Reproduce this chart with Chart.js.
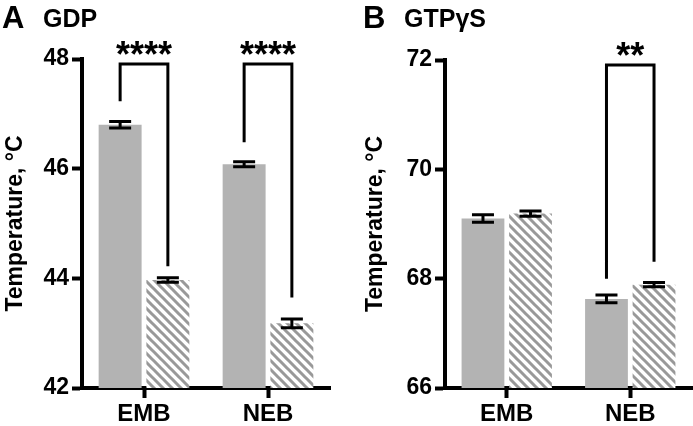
<!DOCTYPE html>
<html>
<head>
<meta charset="utf-8">
<script src="https://cdn.jsdelivr.net/npm/chart.js@4.4.1/dist/chart.umd.min.js"></script>
<style>
body { margin: 0; background: #fff; }
#wrap { position: relative; width: 693px; height: 426px; }
canvas { position: absolute; top: 0; }
</style>
</head>
<body>
<div id="wrap">
  <canvas id="chartA" width="347" height="426" style="left:0"></canvas>
  <canvas id="chartB" width="346" height="426" style="left:347px"></canvas>
</div>
<script>
const categories = ['EMB', 'NEB'];
const gdpSolid = [46.80, 46.08];
const gdpSolidErr = [0.06, 0.045];
const gdpHatched = [43.97, 43.18];
const gdpHatchedErr = [0.04, 0.08];
const gtpSolid = [69.10, 67.63];
const gtpSolidErr = [0.07, 0.07];
const gtpHatched = [69.19, 67.89];
const gtpHatchedErr = [0.05, 0.04];
const gdpTicks = [42, 44, 46, 48];
const gtpTicks = [66, 68, 70, 72];
// brackets: category index, top, left leg end, right leg end, stars
const gdpBrackets = [[0, 47.91, 47.23, 44.22, '****'], [1, 47.91, 46.48, 43.65, '****']];
const gtpBrackets = [[1, 71.91, 68.0, 68.31, '**']];

const FONT = "'Liberation Sans', Arial, sans-serif";
Chart.defaults.font.family = FONT;
Chart.defaults.color = '#000';

function hatch() {
    let c = document.createElement('canvas');
    c.width = 9; c.height = 9;
    let x = c.getContext('2d');
    x.fillStyle = '#fff';
    x.fillRect(0, 0, 9, 9);
    x.strokeStyle = '#999';
    x.lineWidth = 3;
    x.beginPath();
    x.moveTo(-2, -2); x.lineTo(11, 11);
    x.moveTo(-2, 7); x.lineTo(11, 20);
    x.moveTo(-2, -11); x.lineTo(11, 2);
    x.stroke();
    return x.createPattern(c, 'repeat');
}

const errorBars = {
    id: 'errorBars',
    afterDatasetsDraw(chart) {
        let ctx = chart.ctx, y = chart.scales.y;
        ctx.save();
        ctx.strokeStyle = '#000';
        ctx.lineWidth = 3;
        chart.data.datasets.forEach((ds, i) => {
            chart.getDatasetMeta(i).data.forEach((bar, j) => {
                let hi = y.getPixelForValue(ds.data[j] + ds.errors[j]);
                let lo = y.getPixelForValue(ds.data[j] - ds.errors[j]);
                ctx.beginPath();
                ctx.moveTo(bar.x, hi); ctx.lineTo(bar.x, lo);
                ctx.moveTo(bar.x - 11, hi); ctx.lineTo(bar.x + 11, hi);
                ctx.moveTo(bar.x - 11, lo); ctx.lineTo(bar.x + 11, lo);
                ctx.stroke();
            });
        });
        ctx.restore();
    }
};

const extras = {
    id: 'extras',
    afterDraw(chart, args, opts) {
        let ctx = chart.ctx, y = chart.scales.y;
        ctx.save();
        ctx.strokeStyle = '#000';
        ctx.lineWidth = 3;
        ctx.fillStyle = '#000';
        opts.brackets.forEach(b => {
            let x1 = chart.getDatasetMeta(0).data[b[0]].x;
            let x2 = chart.getDatasetMeta(1).data[b[0]].x;
            let top = y.getPixelForValue(b[1]);
            ctx.beginPath();
            ctx.moveTo(x1, y.getPixelForValue(b[2]));
            ctx.lineTo(x1, top);
            ctx.lineTo(x2, top);
            ctx.lineTo(x2, y.getPixelForValue(b[3]));
            ctx.stroke();
            ctx.font = 'bold 36px ' + FONT;
            ctx.textAlign = 'center';
            ctx.fillText(b[4], (x1 + x2) / 2, top + 3);
        });
        ctx.textAlign = 'left';
        ctx.font = 'bold 31px ' + FONT;
        ctx.fillText(opts.letter, opts.letterX, 28);
        ctx.font = 'bold 25px ' + FONT;
        ctx.fillText(opts.title, opts.letterX + 41, 27);
        ctx.restore();
    }
};

function makeChart(id, solid, solidErr, hatched, hatchedErr, ticks, brackets, p) {
    return new Chart(document.getElementById(id), {
        type: 'bar',
        data: {
            labels: categories,
            datasets: [
                {data: solid, errors: solidErr, backgroundColor: '#b3b3b3', borderWidth: 0},
                {data: hatched, errors: hatchedErr, backgroundColor: hatch(), borderWidth: 0}
            ]
        },
        options: {
            responsive: false,
            animation: false,
            layout: {padding: {left: 0, top: p.top, right: p.right, bottom: 0}},
            categoryPercentage: 0.77,
            barPercentage: 0.9,
            plugins: {
                legend: {display: false},
                tooltip: {enabled: false},
                extras: {brackets: brackets, letter: p.letter, title: p.title, letterX: p.letterX}
            },
            scales: {
                x: {
                    z: 1,
                    afterFit: s => { s.height = 38; },
                    border: {display: true, width: 4, color: '#000'},
                    grid: {offset: false, drawOnChartArea: false, tickLength: 10, tickWidth: 4, tickColor: '#000'},
                    ticks: {font: {size: 24, weight: 'bold'}, color: '#000', padding: 2}
                },
                y: {
                    z: 1,
                    min: ticks[0],
                    max: ticks[ticks.length - 1],
                    afterBuildTicks: s => { s.ticks = ticks.map(v => ({value: v})); },
                    afterFit: s => { s.width = p.axis; },
                    border: {display: true, width: 4, color: '#000'},
                    grid: {drawOnChartArea: false, tickLength: 10, tickWidth: 4, tickColor: '#000'},
                    ticks: {font: {size: 23, weight: 'bold'}, color: '#000', padding: 3},
                    title: {display: true, text: 'Temperature, °C', color: '#000',
                        font: {size: 23, weight: 'bold'}, padding: {top: p.titlePad, bottom: 0}}
                }
            }
        },
        plugins: [errorBars, extras]
    });
}

makeChart('chartA', gdpSolid, gdpSolidErr, gdpHatched, gdpHatchedErr, gdpTicks, gdpBrackets,
    {top: 59, right: 17, axis: 82, titlePad: 2, letter: 'A', title: 'GDP', letterX: 2});
makeChart('chartB', gtpSolid, gtpSolidErr, gtpHatched, gtpHatchedErr, gtpTicks, gtpBrackets,
    {top: 60, right: 1, axis: 98, titlePad: 15, letter: 'B', title: 'GTPγS', letterX: 16});
</script>
</body>
</html>
